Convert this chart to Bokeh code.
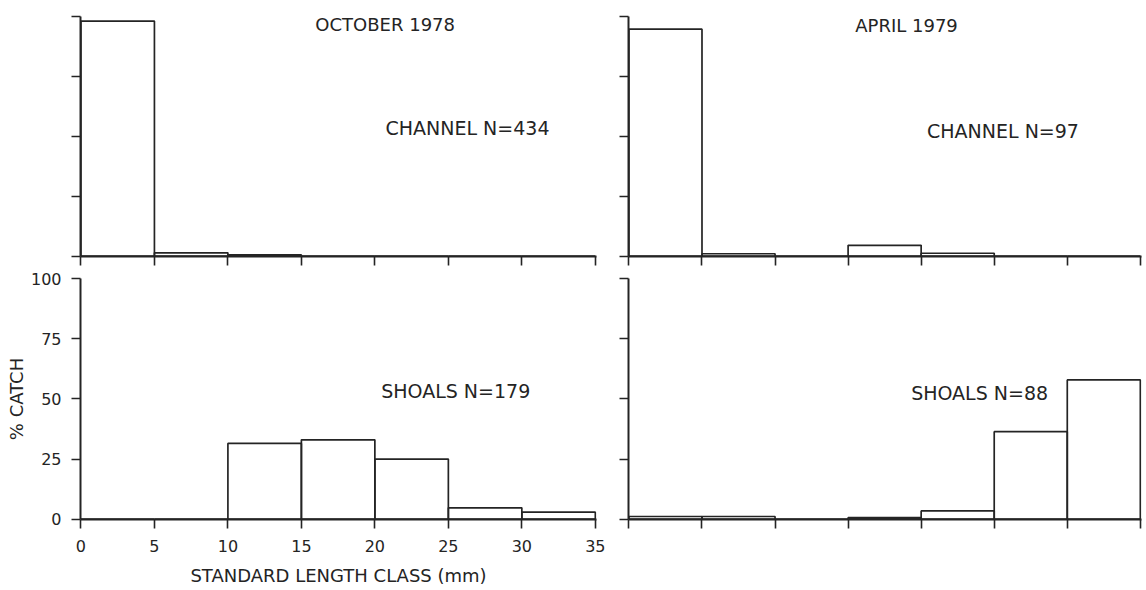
from bokeh.plotting import figure
from bokeh.models import Range1d, FixedTicker, Label
from bokeh.layouts import column, row
from bokeh.embed import file_html
from bokeh.resources import INLINE

# ---- data -------------------------------------------------------------
class_start = [0, 5, 10, 15, 20, 25, 30]          # standard length class (mm), lower bound
class_width = 5
x_ticks = [0, 5, 10, 15, 20, 25, 30, 35]
y_ticks = [0, 25, 50, 75, 100]

oct_channel = [98.2, 1.4, 0.5, 0.0, 0.0, 0.0, 0.0]    # % catch, October 1978, channel
oct_shoals = [0.0, 0.0, 31.5, 33.0, 25.0, 4.7, 2.9]    # % catch, October 1978, shoals
apr_channel = [94.8, 1.0, 0.0, 4.5, 1.2, 0.0, 0.0]     # % catch, April 1979, channel
apr_shoals = [1.1, 1.1, 0.0, 0.6, 3.4, 36.4, 57.9]     # % catch, April 1979, shoals

month_titles = ["OCTOBER 1978", "APRIL 1979"]
habitat_tags = ["CHANNEL N=434", "CHANNEL N=97", "SHOALS N=179", "SHOALS N=88"]
x_title = "STANDARD LENGTH CLASS (mm)"
y_title = "% CATCH"

FONT = "DejaVu Sans"
INK = "#242424"


def make_panel(values, width, height, borders, show_x_labels, show_y_labels):
    left, right, top, bottom = borders
    p = figure(width=width, height=height,
               x_range=Range1d(-0.03, 35.08), y_range=Range1d(-0.15, 100.1),
               output_backend="svg", toolbar_location=None,
               min_border_left=left, min_border_right=right,
               min_border_top=top, min_border_bottom=bottom)
    p.outline_line_color = None
    p.grid.visible = False
    p.background_fill_color = "white"
    p.border_fill_color = "white"

    rights = [s + class_width for s in class_start]
    p.quad(left=class_start, right=rights, bottom=0, top=values,
           fill_color=None, line_color=INK, line_width=1.7)

    xa = p.xaxis[0]
    ya = p.yaxis[0]
    xa.ticker = FixedTicker(ticks=x_ticks)
    ya.ticker = FixedTicker(ticks=y_ticks)
    for ax, tout in ((xa, 9), (ya, 9)):
        ax.axis_line_color = INK
        ax.axis_line_width = 2
        ax.major_tick_line_color = INK
        ax.major_tick_line_width = 1.6
        ax.major_tick_in = 0
        ax.major_tick_out = tout
        ax.minor_tick_line_color = None
        ax.major_label_text_font = FONT
        ax.major_label_text_color = INK
        ax.axis_label_text_font = FONT
        ax.axis_label_text_color = INK
        ax.axis_label_text_font_style = "normal"
        ax.axis_label_text_font_size = "18px"

    if show_x_labels:
        xa.major_label_text_font_size = "16px"
        xa.major_label_standoff = 11
        xa.axis_label = x_title
        xa.axis_label_standoff = 10
    else:
        xa.major_label_text_font_size = "1px"
        xa.major_label_text_color = None
        xa.major_label_standoff = 0

    if show_y_labels:
        ya.major_label_text_font_size = "16px"
        ya.major_label_standoff = 10
        ya.axis_label = y_title
        ya.axis_label_standoff = 1
    else:
        ya.major_label_text_font_size = "1px"
        ya.major_label_text_color = None
        ya.major_label_standoff = 0
    return p


def add_label(p, x, y, text, size="19px"):
    p.add_layout(Label(x=x, y=y, text=text, text_align="center",
                       text_baseline="middle", text_font=FONT,
                       text_font_size=size, text_color=INK))


# frames: left 80..596, right 628..1141 ; top 16..256, bottom 278..519
LEFT_W, RIGHT_W = 80 + 516 + 14, 18 + 513 + 4
TOP_H, BOT_H = 16 + 240 + 14, 8 + 241 + 70

tl = make_panel(oct_channel, LEFT_W, TOP_H, (80, 14, 16, 14), False, False)
tr = make_panel(apr_channel, RIGHT_W, TOP_H, (18, 4, 16, 14), False, False)
bl = make_panel(oct_shoals, LEFT_W, BOT_H, (80, 14, 8, 70), True, True)
br = make_panel(apr_shoals, RIGHT_W, BOT_H, (18, 4, 8, 70), False, False)

add_label(tl, 20.7, 96.9, month_titles[0], "18px")
add_label(tr, 19.0, 96.4, month_titles[1], "18px")
add_label(tl, 26.3, 53.7, habitat_tags[0])
add_label(tr, 25.6, 52.1, habitat_tags[1])
add_label(bl, 25.5, 53.5, habitat_tags[2])
add_label(br, 24.0, 52.3, habitat_tags[3])

layout = column(row(tl, tr), row(bl, br))

open("out.html", "w").write(file_html(layout, INLINE))
